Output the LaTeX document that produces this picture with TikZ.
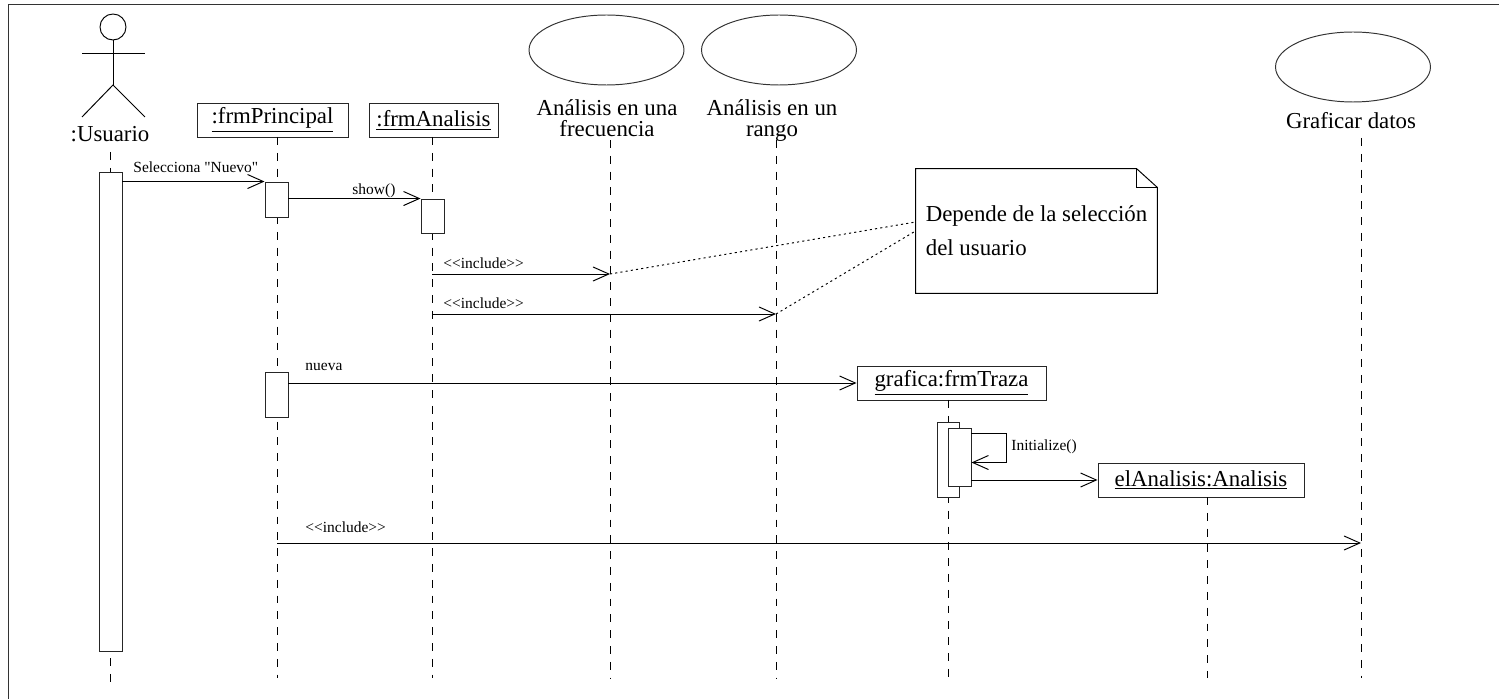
\documentclass[tikz,border=0pt]{standalone}
\usepackage{fontspec}
\usepackage{tikz}
\usetikzlibrary{shapes.geometric,arrows.meta,calc}
\newfontfamily\umlfont{Liberation Serif}

\begin{document}
\begin{tikzpicture}
[
  x=0.02cm, y=-0.02cm,
  line width=0.55pt,
	big/.style={font=\umlfont\fontsize{13}{15.6}\selectfont},
	twoline/.style={font=\umlfont\fontsize{13}{12.5}\selectfont, align=center, anchor=base},
	lbl/.style={font=\umlfont\fontsize{8.8}{10}\selectfont, anchor=west, inner sep=0pt},
	obj/.style={draw, black!85, text=black, big, minimum height=0.68cm, inner sep=0pt},
	act/.style={draw, black!85, fill=white, minimum width=0.46cm, inner sep=0pt},
	usecase/.style={draw, black!80, ellipse, minimum width=3.1cm, minimum height=1.4cm},
	life/.style={dash pattern=on 4.5pt off 4.5pt},
	msg/.style={-{Straight Barb[length=9pt,width=8pt]}},
	link/.style={dash pattern=on 1.2pt off 1.8pt}
]
\useasboundingbox (0,0) rectangle (1499,699);

% frame
\draw[black!80] (1499,4) -- (8,4) -- (8,699);

% actor
\node[circle, draw, minimum size=0.52cm, inner sep=0pt] (head) at (113,27) {};
\coordinate (hip) at (113,85);
\draw (head.south) -- (hip);
\draw (82,53) -- (145,53);
\draw (82,117) -- (hip) -- (145,117);
\node[big, anchor=base] (usuario) at (110,142) {:Usuario};

% objects
\node[obj, minimum width=3.02cm] (principal) at (272.5,120) {\underline{:frmPrincipal}};
\node[obj, minimum width=2.58cm] (analisis) at (433.5,120) {\underline{:frmAnalisis}};
\node[obj, minimum width=3.78cm] (grafica) at (951.5,383) {\underline{grafica:frmTraza}};
\node[obj, minimum width=4.12cm] (elanalisis) at (1201,480) {\underline{elAnalisis:Analisis}};

% use cases
\node[usecase] (frecE) at (606.5,50) {};
\node[twoline] (frec) at (607,137) {Análisis en una\\frecuencia};
\node[usecase] (rangoE) at (779,50) {};
\node[twoline] (rango) at (772,137) {Análisis en un\\rango};
\node[usecase] (graficarE) at (1353,67) {};
\node[big, anchor=base] (graficar) at (1351,129) {Graficar datos};

% lifelines
\draw[life] (110,152) -- (110,682);
\foreach \x/\t in {277/137, 432/137, 610/140, 776/140, 948/400, 1207/497, 1361/138}
  \draw[life] (\x,\t) -- (\x,678);

% activations
\node[act, minimum height=9.6cm] (actU) at (110.5,412) {};
\node[act, minimum height=0.7cm] (actP1) at (276.5,199.5) {};
\node[act, minimum height=0.68cm] (actA) at (432.5,216) {};
\node[act, minimum height=0.9cm] (actP2) at (276.5,394.5) {};
\node[act, minimum width=0.44cm, minimum height=1.5cm] (actG1) at (948,459.5) {};
\node[act, minimum height=1.16cm] (actG2) at (959.5,457) {};

% messages
\draw[msg] (actU.east |- actP1.north) -- (actP1.north west);
\node[lbl] (lsel) at (133,167) {Selecciona "Nuevo"};

\draw[msg] (actP1.east |- actA.north) -- (actA.north west);
\node[lbl] (lshow) at (352,191) {show()};

\coordinate (inc1s) at (432,274);
\coordinate (inc1e) at (610,274);
\draw[msg] (inc1s) -- (inc1e);
\node[lbl] (linc1) at (443,263) {<{}<include>{}>};

\coordinate (inc2s) at (432,314);
\coordinate (inc2e) at (776,314);
\draw[msg] (inc2s) -- (inc2e);
\node[lbl] (linc2) at (443,303) {<{}<include>{}>};

\draw[msg] (actP2.east |- grafica.west) -- (grafica.west);
\node[lbl] (lnueva) at (305,367) {nueva};

\draw[msg] ($(actG2.north east)+(0,6)$) -- ++(35,0) -- ++(0,29) -- ++(-35,0);
\node[lbl] (linit) at (1011,447) {Initialize()};

\draw[msg] (actG2.east |- elanalisis.west) -- (elanalisis.west);

\coordinate (inc3s) at (277,543);
\coordinate (inc3e) at (1361,543);
\draw[msg] (inc3s) -- (inc3e);
\node[lbl] (linc3) at (305,527) {<{}<include>{}>};

% note
\node[font=\umlfont\fontsize{13}{19.3}\selectfont, align=left, minimum width=4.82cm, minimum height=2.48cm, inner sep=0pt] (note) at (1036.5,231) {Depende de la selección\\del usuario};
\draw (note.south west) -- (note.north west) -- ($(note.north east)+(-21,0)$) -- ($(note.north east)+(0,19)$) -- (note.south east) -- cycle;
\draw ($(note.north east)+(-21,0)$) -- ++(0,19) -- ++(21,0);

\draw[link] (inc1e) -- ($(note.west)+(0,-9)$);
\draw[link] (inc2e) -- (note.west);

\end{tikzpicture}
\end{document}
